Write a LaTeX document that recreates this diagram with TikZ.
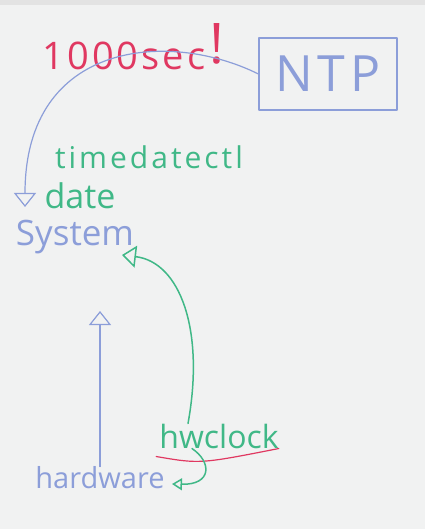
\documentclass[tikz,border=0pt]{standalone}
\usepackage{fontspec}
\setmainfont{Open Sans}
\usepackage{tikz}
\usetikzlibrary{arrows.meta}
\definecolor{bbbbff}{rgb}{0.55,0.62,0.85}
\definecolor{ffqqpp}{rgb}{0.88,0.22,0.38}
\definecolor{qqccbb}{rgb}{0.25,0.72,0.53}
\definecolor{wbgray}{rgb}{0.947,0.949,0.949}
\definecolor{wbtop}{rgb}{0.89,0.89,0.89}
\newcommand{\hand}[2]{\fontsize{#1}{#1}\selectfont\addfontfeature{LetterSpace=#2}}
\tikzstyle{every node}=[inner sep=0pt]
\tikzstyle{blueink}=[color=bbbbff,line width=1.2pt]
\tikzstyle{greenink}=[color=qqccbb,line width=1.5pt]
\tikzstyle{openhead}=[-{Triangle[open,length=14pt,width=22pt]}]

\begin{document}
\begin{tikzpicture}[line cap=round,line join=round,x=1pt,y=-1pt]
            \useasboundingbox (0,0) rectangle (425,529);
            \fill[wbgray] (0,0) rectangle (425,529);
            \fill[wbtop] (0,0) rectangle (425,5);
            % red remark
            \node[text=ffqqpp,font=\hand{38}{8}] (sec) at (124,56) {1000sec};
            \node[text=ffqqpp,font=\hand{56}{0}] (bang) at (217,44) {!};
            % NTP box
            \node[blueink,draw,font=\hand{50}{10},minimum width=138pt,minimum height=72pt] (ntp) at (328,74) {NTP};
            % commands
            \node[text=qqccbb,font=\hand{30}{10}] (tdctl) at (149,157) {timedatectl};
            \node[text=qqccbb,font=\hand{34}{0}] (datecmd) at (80,196) {date};
            \node[text=bbbbff,font=\hand{35}{0}] (system) at (75,237) {System};
            \node[text=qqccbb,font=\hand{32}{0}] (hwclock) at (219,436) {hwclock};
            \node[text=bbbbff,font=\hand{29}{0}] (hardware) at (100,478) {hardware};
            \coordinate (ntpin) at (25,207);
            \coordinate (sysin) at (100,311);
            \coordinate (hwin) at (122,255);
            \coordinate (hwout) at (172,484);
            % connectors
            \draw[blueink,openhead] (ntp.west) .. controls (170,30) and (25,40) .. (ntpin);
            \draw[blueink,openhead] (hardware.north) -- (sysin);
            \draw[greenink,openhead] (hwclock.north -| 188,0) .. controls (205,330) and (180,262) .. (hwin);
            \draw[color=ffqqpp,line width=1.2pt] (hwclock.south west) ++(-3,8) .. controls (200,464) .. (hwclock.south east);
            \draw[greenink,-{Triangle[open,length=10pt,width=12pt]}] (hwclock.south -| 192,0) .. controls (212,462) and (212,485) .. (hwout);
            \end{tikzpicture}
\end{document}
